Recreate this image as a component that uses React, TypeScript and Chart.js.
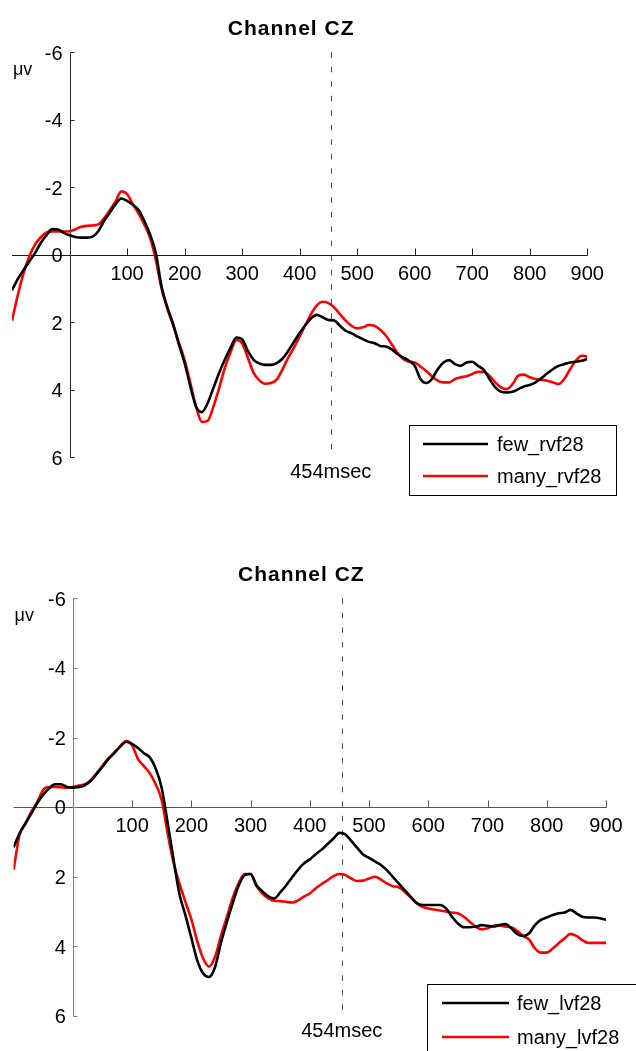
import { useEffect, useRef } from "react";
import { Chart, registerables } from "chart.js";

Chart.register(...registerables);

// Sample times (ms) relative to stimulus onset
const TIME_MS = [
  -100, -90, -80, -70, -60, -50, -40, -30, -20, -10,
  0, 10, 20, 30, 40, 50, 60, 70, 80, 90,
  100, 110, 120, 130, 140, 150, 160, 170, 180, 190,
  200, 210, 220, 230, 240, 250, 260, 270, 280, 290,
  300, 310, 320, 330, 340, 350, 360, 370, 380, 390,
  400, 410, 420, 430, 440, 450, 460, 470, 480, 490,
  500, 510, 520, 530, 540, 550, 560, 570, 580, 590,
  600, 610, 620, 630, 640, 650, 660, 670, 680, 690,
  700, 710, 720, 730, 740, 750, 760, 770, 780, 790,
  800, 810, 820, 830, 840, 850, 860, 870, 880, 890,
  900,
];

// Grand-average amplitudes (µV) at channel CZ
const FEW_RVF28 = [
  1.05, 0.72, 0.45, 0.2, -0.05, -0.35, -0.58, -0.76, -0.75, -0.65,
  -0.58, -0.53, -0.51, -0.51, -0.54, -0.7, -1.0, -1.25, -1.5, -1.67,
  -1.6, -1.48, -1.33, -1.0, -0.6, -0.05, 0.95, 1.55, 2.05, 2.65,
  3.2, 3.9, 4.5, 4.66, 4.4, 3.95, 3.5, 3.1, 2.75, 2.45,
  2.5, 2.85, 3.11, 3.22, 3.26, 3.26, 3.21, 3.08, 2.85, 2.58,
  2.32, 2.08, 1.88, 1.78, 1.85, 1.93, 1.95, 2.1, 2.25, 2.32,
  2.42, 2.5, 2.58, 2.62, 2.7, 2.72, 2.8, 2.94, 3.04, 3.14,
  3.29, 3.68, 3.8, 3.68, 3.39, 3.19, 3.12, 3.24, 3.29, 3.19,
  3.17, 3.29, 3.41, 3.68, 3.93, 4.06, 4.08, 4.06, 3.98, 3.9,
  3.86, 3.78, 3.66, 3.52, 3.39, 3.29, 3.24, 3.19, 3.17, 3.14,
  3.09,
];

const MANY_RVF28 = [
  1.95, 1.2, 0.55, 0.05, -0.3, -0.52, -0.66, -0.69, -0.69, -0.69,
  -0.7, -0.75, -0.83, -0.86, -0.87, -0.9, -1.08, -1.32, -1.58, -1.88,
  -1.8, -1.5, -1.22, -0.9, -0.5, 0.15, 1.0, 1.6, 2.08, 2.6,
  3.12, 3.8, 4.5, 4.95, 4.92, 4.5, 3.95, 3.35, 2.88, 2.52,
  2.62, 3.05, 3.5, 3.72, 3.82, 3.8, 3.7, 3.4, 3.05, 2.75,
  2.42, 2.08, 1.75, 1.5, 1.39, 1.43, 1.56, 1.76, 1.95, 2.1,
  2.18, 2.15, 2.08, 2.1, 2.22, 2.4, 2.65, 2.9, 3.09, 3.17,
  3.19, 3.31, 3.44, 3.6, 3.73, 3.78, 3.78, 3.68, 3.63, 3.6,
  3.53, 3.47, 3.47, 3.58, 3.78, 3.93, 3.98, 3.83, 3.58, 3.55,
  3.63, 3.68, 3.7, 3.73, 3.78, 3.83, 3.68, 3.39, 3.14, 2.99,
  3.01,
];

const FEW_LVF28 = [
  1.15, 0.76, 0.47, 0.18, -0.12, -0.36, -0.54, -0.66, -0.66, -0.58,
  -0.56, -0.58, -0.63, -0.75, -0.95, -1.16, -1.38, -1.56, -1.74, -1.88,
  -1.82, -1.7, -1.55, -1.43, -1.1, -0.55, 0.45, 1.5, 2.5, 3.1,
  3.75, 4.4, 4.78, 4.88, 4.6, 3.9, 3.3, 2.75, 2.25, 1.95,
  1.92, 2.24, 2.42, 2.56, 2.62, 2.45, 2.25, 2.02, 1.8, 1.62,
  1.5, 1.35, 1.22, 1.06, 0.9, 0.74, 0.78, 0.97, 1.17, 1.36,
  1.46, 1.56, 1.66, 1.81, 2.0, 2.19, 2.38, 2.57, 2.75, 2.81,
  2.81, 2.81, 2.81, 2.91, 3.15, 3.34, 3.45, 3.45, 3.43, 3.39,
  3.41, 3.43, 3.39, 3.36, 3.48, 3.64, 3.7, 3.63, 3.39, 3.24,
  3.17, 3.1, 3.05, 3.03, 2.95, 3.05, 3.15, 3.17, 3.17, 3.19,
  3.24,
];

const MANY_LVF28 = [
  1.8, 0.8, 0.47, 0.13, -0.15, -0.5, -0.58, -0.58, -0.57, -0.56,
  -0.58, -0.62, -0.66, -0.77, -0.97, -1.19, -1.4, -1.56, -1.75, -1.9,
  -1.78, -1.38, -1.18, -0.97, -0.65, -0.2, 0.75, 1.6, 2.2, 2.72,
  3.22, 3.85, 4.35, 4.58, 4.3, 3.7, 3.15, 2.6, 2.18, 1.92,
  1.92, 2.27, 2.48, 2.62, 2.69, 2.7, 2.72, 2.74, 2.68, 2.57,
  2.48, 2.33, 2.21, 2.1, 1.98, 1.92, 1.95, 2.05, 2.12, 2.11,
  2.05, 2.0, 2.08, 2.19, 2.27, 2.3, 2.43, 2.59, 2.75, 2.86,
  2.91, 2.94, 2.97, 3.0, 3.03, 3.05, 3.15, 3.29, 3.43, 3.51,
  3.48, 3.41, 3.39, 3.43, 3.45, 3.55, 3.7, 3.8, 4.06, 4.18,
  4.18, 4.06, 3.91, 3.77, 3.64, 3.7, 3.82, 3.9, 3.9, 3.9,
  3.9,
];

const X_TICKS = [100, 200, 300, 400, 500, 600, 700, 800, 900];
const Y_TICKS = [-6, -4, -2, 0, 2, 4, 6];
const MARKER_MS = 454;
const TITLE = "Channel CZ";
const UNIT = "\u03bcv";

const FONT = '"Liberation Sans", Arial, Helvetica, sans-serif';

type Panel = {
  canvasTop: number;
  canvasHeight: number;
  padding: { left: number; right: number; top: number; bottom: number };
  few: number[];
  many: number[];
  names: [string, string];
  xColor: string;
  yColor: string;
  titleShift: number;
  legend: {
    x: number; y: number; w: number; h: number;
    lineX1: number; lineX2: number; textX: number; row1: number; row2: number;
  };
};

const PANELS: Panel[] = [
  {
    canvasTop: 0,
    canvasHeight: 520,
    padding: { left: 12, right: 48.7, top: 52.3, bottom: 62.7 },
    few: FEW_RVF28,
    many: MANY_RVF28,
    names: ["few_rvf28", "many_rvf28"],
    xColor: "#1a1a1a",
    yColor: "#2a2a2a",
    titleShift: -8.5,
    legend: { x: 409.5, y: 425.5, w: 207, h: 70, lineX1: 423, lineX2: 488, textX: 497, row1: 444, row2: 476 },
  },
  {
    canvasTop: 520,
    canvasHeight: 531,
    padding: { left: 13.6, right: 30, top: 78.3, bottom: 35 },
    few: FEW_LVF28,
    many: MANY_LVF28,
    names: ["few_lvf28", "many_lvf28"],
    xColor: "#555555",
    yColor: "#7a7a7a",
    titleShift: -8.5,
    legend: { x: 427.5, y: 464.5, w: 215, h: 80, lineX1: 442, lineX2: 509, textX: 517, row1: 483, row2: 517 },
  },
];

// Axes crossing at the origin, dashed latency marker, titles and legend box
const erpFrame = {
  id: "erpFrame",
  beforeDatasetsDraw(chart: any, _args: any, o: any) {
    const { ctx, chartArea: a } = chart;
    const xs = chart.scales.x;
    const ys = chart.scales.y;
    const px = (v: number) => Math.round(xs.getPixelForValue(v)) + 0.5;
    const py = (v: number) => Math.round(ys.getPixelForValue(v)) + 0.5;
    const x0 = px(0);
    const y0 = py(0);
    ctx.save();
    ctx.lineWidth = 1;

    // latency marker
    const xm = px(MARKER_MS);
    ctx.strokeStyle = "#4d4d4d";
    ctx.setLineDash([5.5, 9]);
    ctx.beginPath();
    ctx.moveTo(xm, a.top);
    ctx.lineTo(xm, a.bottom);
    ctx.stroke();
    ctx.setLineDash([]);

    // time axis along zero amplitude
    ctx.strokeStyle = o.xColor;
    ctx.beginPath();
    ctx.moveTo(a.left, y0);
    ctx.lineTo(px(xs.max), y0);
    for (const t of X_TICKS) {
      const x = px(t);
      ctx.moveTo(x, y0);
      ctx.lineTo(x, y0 - 7);
    }
    ctx.stroke();

    // amplitude axis at stimulus onset
    ctx.strokeStyle = o.yColor;
    ctx.beginPath();
    ctx.moveTo(x0, py(Y_TICKS[0]));
    ctx.lineTo(x0, py(Y_TICKS[Y_TICKS.length - 1]));
    for (const v of Y_TICKS) {
      const y = py(v);
      ctx.moveTo(x0, y);
      ctx.lineTo(x0 + 4, y);
    }
    ctx.stroke();

    ctx.fillStyle = "#000";
    ctx.font = `20px ${FONT}`;
    ctx.textBaseline = "alphabetic";
    ctx.textAlign = "center";
    for (const t of X_TICKS) {
      ctx.fillText(String(t), xs.getPixelForValue(t), ys.getPixelForValue(0) + 25);
    }
    ctx.textAlign = "right";
    for (const v of Y_TICKS) {
      ctx.fillText(String(v), xs.getPixelForValue(0) - 7, ys.getPixelForValue(v) + 7.2);
    }

    // marker label
    ctx.textAlign = "center";
    ctx.fillText(`${MARKER_MS}msec`, xs.getPixelForValue(MARKER_MS), a.bottom + 21);

    // unit label
    ctx.textAlign = "left";
    ctx.font = `18px ${FONT}`;
    ctx.fillText(UNIT, a.left + 1, a.top + 23);

    // title
    ctx.textAlign = "center";
    ctx.font = `bold 21px ${FONT}`;
    try { (ctx as any).letterSpacing = "1px"; } catch (e) { /* older canvas */ }
    ctx.fillText(TITLE, (a.left + a.right) / 2 + o.titleShift, a.top - 17.5);
    try { (ctx as any).letterSpacing = "0px"; } catch (e) { /* older canvas */ }
    ctx.restore();
  },
  afterDraw(chart: any, _args: any, o: any) {
    const { ctx } = chart;
    const L = o.legend;
    const sets = chart.data.datasets;
    ctx.save();
    ctx.fillStyle = "#fff";
    ctx.fillRect(L.x, L.y, L.w, L.h);
    ctx.strokeStyle = "#000";
    ctx.lineWidth = 1;
    ctx.strokeRect(L.x, L.y, L.w, L.h);
    const rows = [L.row1, L.row2];
    ctx.font = `20px ${FONT}`;
    ctx.textAlign = "left";
    ctx.textBaseline = "alphabetic";
    sets.forEach((ds: any, i: number) => {
      ctx.strokeStyle = ds.borderColor;
      ctx.lineWidth = 2.6;
      ctx.beginPath();
      ctx.moveTo(L.lineX1, rows[i]);
      ctx.lineTo(L.lineX2, rows[i]);
      ctx.stroke();
      ctx.fillStyle = "#000";
      ctx.fillText(ds.label, L.textX, rows[i] + 7);
    });
    ctx.restore();
  },
};

function ErpPanel({ panel }: { panel: Panel }) {
  const ref = useRef<HTMLCanvasElement | null>(null);

  useEffect(() => {
    const canvas = ref.current;
    if (!canvas) return;
    const chart = new Chart(canvas, {
      type: "line",
      data: {
        datasets: [
          {
            label: panel.names[0],
            data: TIME_MS.map((t, i) => ({ x: t, y: panel.few[i] })),
            borderColor: "#000000",
            borderWidth: 2.6,
            pointRadius: 0,
            cubicInterpolationMode: "monotone",
            fill: false,
          },
          {
            label: panel.names[1],
            data: TIME_MS.map((t, i) => ({ x: t, y: panel.many[i] })),
            borderColor: "#ff0000",
            borderWidth: 2.6,
            pointRadius: 0,
            cubicInterpolationMode: "monotone",
            fill: false,
          },
        ],
      },
      options: {
        responsive: false,
        animation: false,
        devicePixelRatio: 1,
        layout: { padding: panel.padding },
        scales: {
          x: { type: "linear", min: -100, max: 900, display: false },
          y: { type: "linear", min: -6, max: 6, reverse: true, display: false },
        },
        plugins: {
          legend: { display: false },
          title: { display: false },
          tooltip: { enabled: false },
          erpFrame: {
            xColor: panel.xColor,
            yColor: panel.yColor,
            titleShift: panel.titleShift,
            legend: panel.legend,
          },
        } as any,
      },
      plugins: [erpFrame],
    } as any);
    return () => chart.destroy();
  }, [panel]);

  return (
    <canvas
      ref={ref}
      width={636}
      height={panel.canvasHeight}
      style={{ position: "absolute", left: 0, top: panel.canvasTop, display: "block" }}
    />
  );
}

export default function App() {
  return (
    <div
      style={{
        position: "absolute",
        left: 0,
        top: 0,
        width: 636,
        height: 1051,
        overflow: "hidden",
        background: "#ffffff",
      }}
    >
      {PANELS.map((p, i) => (
        <ErpPanel key={i} panel={p} />
      ))}
    </div>
  );
}
